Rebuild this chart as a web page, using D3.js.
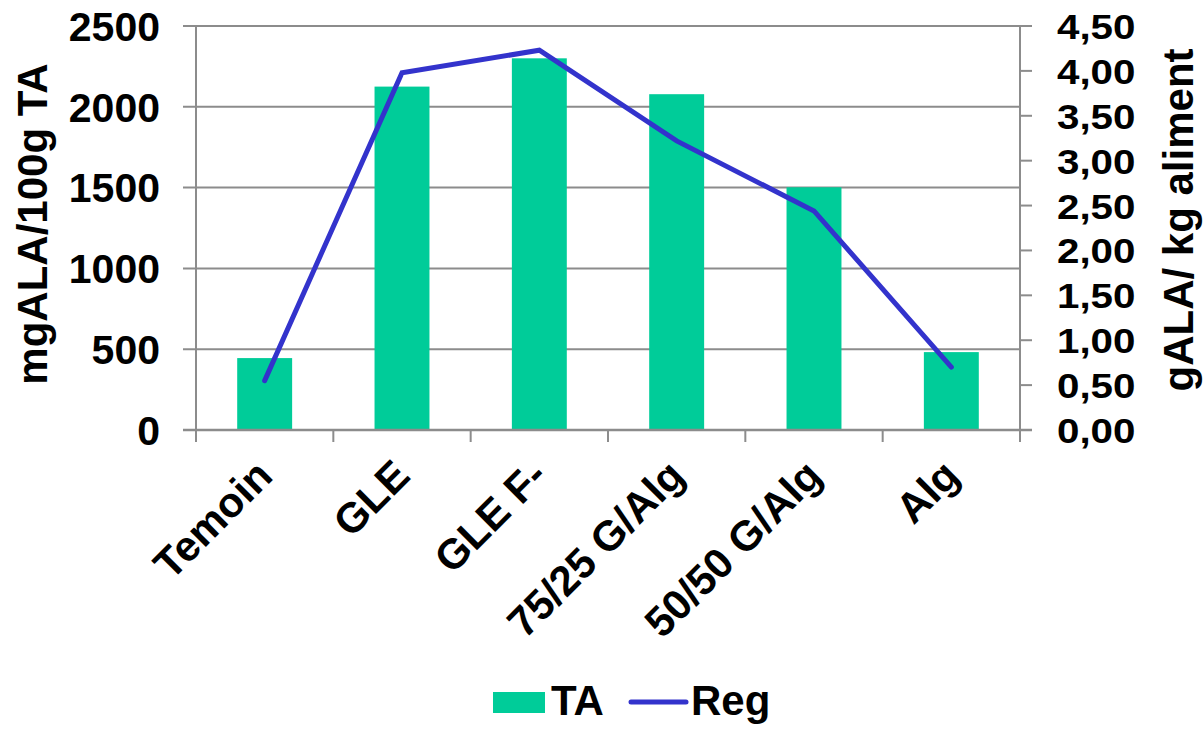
<!DOCTYPE html>
<html><head><meta charset="utf-8">
<script src="https://cdn.jsdelivr.net/npm/d3@7"></script>
<style>body{margin:0;background:#fff}svg{display:block}text{font-family:"Liberation Sans",Arial,sans-serif;font-weight:bold;fill:#000}</style>
</head><body><svg id="c" width="1204" height="729"></svg>
<script>
const categories = ["Temoin","GLE","GLE F-","75/25 G/Alg","50/50 G/Alg","Alg"];
const taValues = [445, 2125, 2300, 2078, 1502, 482];
const regValues = [0.55, 3.98, 4.23, 3.22, 2.44, 0.70];
const leftTicks = [0,500,1000,1500,2000,2500];
const rightTicks = [0,0.5,1,1.5,2,2.5,3,3.5,4,4.5];

const svg = d3.select("#c");
const L = 196, R = 1020, T = 26, B = 430;
const x = d3.scaleBand().domain(categories).range([L, R]).paddingInner(0).paddingOuter(0);
const yL = d3.scaleLinear().domain([0, 2500]).range([B, T]);
const yR = d3.scaleLinear().domain([0, 4.5]).range([B, T]);
const grid = "#8c8c8c";

// gridlines + left ticks
svg.append("g").selectAll("line").data(leftTicks).join("line")
  .attr("x1", L - 13).attr("x2", R).attr("y1", d => yL(d)).attr("y2", d => yL(d))
  .attr("stroke", grid).attr("stroke-width", 2);

// bars
const bw = x.bandwidth() * 0.4;
svg.append("g").selectAll("rect").data(taValues).join("rect")
  .attr("x", (d, i) => x(categories[i]) + x.bandwidth()/2 - bw/2)
  .attr("width", bw)
  .attr("y", d => yL(d)).attr("height", d => B - yL(d))
  .attr("fill", "#00cc99");

// axes lines
svg.append("line").attr("x1", L).attr("x2", L).attr("y1", T).attr("y2", B + 12).attr("stroke", grid).attr("stroke-width", 2);
svg.append("line").attr("x1", R).attr("x2", R).attr("y1", T).attr("y2", B + 12).attr("stroke", grid).attr("stroke-width", 2);
svg.append("line").attr("x1", L - 13).attr("x2", R + 12).attr("y1", B).attr("y2", B).attr("stroke", grid).attr("stroke-width", 2.5);
// x ticks
const bounds = categories.map(c => x(c)).concat([R]);
svg.append("g").selectAll("line").data(bounds).join("line")
  .attr("x1", d => d).attr("x2", d => d).attr("y1", B).attr("y2", B + 12)
  .attr("stroke", grid).attr("stroke-width", 2);
// right ticks
svg.append("g").selectAll("line").data(rightTicks).join("line")
  .attr("x1", R).attr("x2", R + 12).attr("y1", d => yR(d)).attr("y2", d => yR(d))
  .attr("stroke", grid).attr("stroke-width", 2);

// line
svg.append("path").datum(regValues)
  .attr("d", d3.line().x((d, i) => x(categories[i]) + x.bandwidth()/2).y(d => yR(d)))
  .attr("fill", "none").attr("stroke", "#3333cc").attr("stroke-width", 5)
  .attr("stroke-linecap", "round").attr("stroke-linejoin", "miter");

// left labels
svg.append("g").selectAll("text").data(leftTicks).join("text")
  .attr("x", 160).attr("y", d => yL(d)).attr("dy", "0.36em")
  .attr("text-anchor", "end").attr("font-size", 41).text(d => d);
// right labels
const fmt = d => d3.format(".2f")(d).replace(".", ",");
svg.append("g").selectAll("text").data(rightTicks).join("text")
  .attr("transform", d => `translate(1057,${yR(d)}) scale(1.12,1)`).attr("dy", "0.36em")
  .attr("text-anchor", "start").attr("font-size", 36).text(fmt);

// x labels
svg.append("g").selectAll("text").data(categories).join("text")
  .attr("transform", c => `translate(${x(c) + x.bandwidth()/2 + 10},${B + 48}) rotate(-45)`)
  .attr("text-anchor", "end").attr("font-size", 42).text(c => c);

// axis titles
svg.append("text").attr("transform", `translate(47,224) rotate(-90)`)
  .attr("text-anchor", "middle").attr("font-size", 42).text("mgALA/100g TA");
svg.append("text").attr("transform", `translate(1193,220) rotate(-90)`)
  .attr("text-anchor", "middle").attr("font-size", 42).text("gALA/ kg aliment");

// legend
svg.append("rect").attr("x", 493).attr("y", 692).attr("width", 52).attr("height", 21).attr("fill", "#00cc99");
svg.append("text").attr("x", 551).attr("y", 715).attr("font-size", 42).text("TA");
svg.append("line").attr("x1", 631).attr("x2", 686).attr("y1", 702).attr("y2", 702)
  .attr("stroke", "#3333cc").attr("stroke-width", 5).attr("stroke-linecap", "round");
svg.append("text").attr("x", 691).attr("y", 715).attr("font-size", 42).text("Reg");
</script></body></html>
